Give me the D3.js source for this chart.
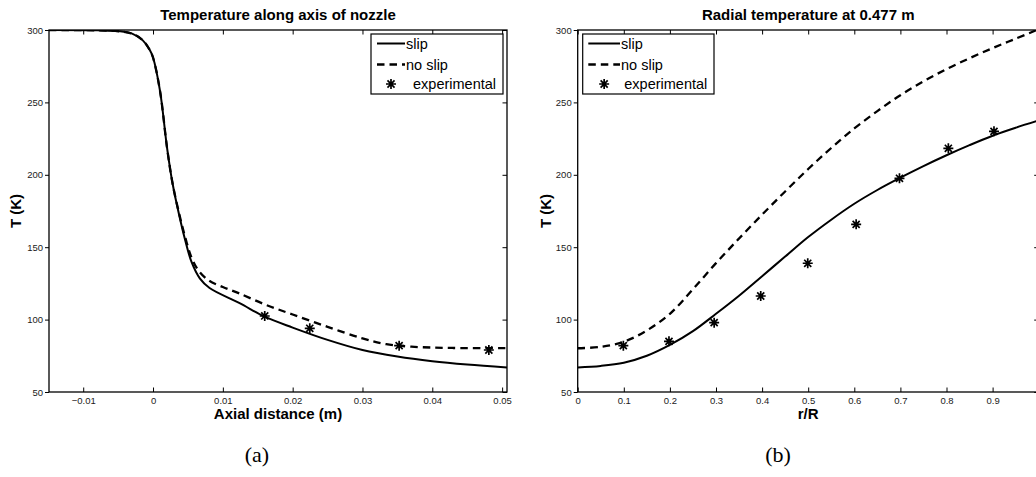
<!DOCTYPE html>
<html>
<head>
<meta charset="utf-8">
<script src="https://cdn.jsdelivr.net/npm/d3@7"></script>
<style>
  html, body { margin: 0; padding: 0; background: #fff; }
  svg { display: block; }
</style>
</head>
<body>
<svg id="fig" width="1036" height="477"></svg>
<script>
// ---- (a) temperature along nozzle axis ----
const axialSlip = [
  [-0.0149, 300], [-0.008, 299.8], [-0.005, 299.2], [-0.003, 297.5], [-0.0015, 293],
  [-0.0005, 286.5], [0, 281], [0.001, 258], [0.002, 219], [0.0028, 194], [0.0038, 171],
  [0.0046, 155], [0.0055, 140], [0.0067, 128.5], [0.0081, 121.8], [0.0124, 111.4],
  [0.016, 102], [0.020, 94.5], [0.025, 86], [0.030, 79], [0.035, 74.5], [0.040, 71.3],
  [0.045, 69], [0.0507, 67]
];
const axialNoSlip = [
  [-0.0149, 300], [-0.008, 299.8], [-0.005, 299.2], [-0.003, 297.5], [-0.0015, 293],
  [-0.0005, 286.5], [0, 281], [0.001, 258], [0.002, 219], [0.0028, 194], [0.0038, 172],
  [0.0046, 157], [0.0055, 143], [0.0065, 134], [0.008, 127], [0.010, 122.5],
  [0.0124, 118], [0.016, 110.5], [0.020, 103.5], [0.025, 95], [0.030, 87],
  [0.0334, 83], [0.037, 81.3], [0.043, 80.4], [0.0507, 80.3]
];
const axialExp = [[0.016, 102.5], [0.02245, 94], [0.03525, 82], [0.0481, 79]];
const axialTicks = [-0.01, 0, 0.01, 0.02, 0.03, 0.04, 0.05];

// ---- (b) radial temperature at 0.477 m ----
const radialR = [0, 0.05, 0.1, 0.15, 0.2, 0.25, 0.3, 0.35, 0.4, 0.45, 0.5,
                 0.55, 0.6, 0.65, 0.7, 0.75, 0.8, 0.85, 0.9, 0.95, 1.0];
const radialSlipT = [67, 68, 70.2, 75, 82.5, 92, 104, 116.5, 130, 143.5, 157,
                     169, 180, 189.5, 198, 206, 213.5, 220.5, 227, 232.5, 237.5];
const radialNoSlipT = [80.2, 81.2, 84.7, 92.5, 104, 121, 139, 156, 172.5, 188.5, 204,
                       218.5, 232, 244, 255, 264.5, 273, 280.5, 287.5, 294, 300.5];
const radialExp = [
  [0.099, 82], [0.198, 85], [0.296, 97.9], [0.397, 116.3], [0.499, 138.9],
  [0.604, 165.8], [0.698, 197.6], [0.804, 218.3], [0.903, 230]
];
const radialTicks = [0, 0.1, 0.2, 0.3, 0.4, 0.5, 0.6, 0.7, 0.8, 0.9];

const tempTicks = [50, 100, 150, 200, 250, 300];
const legendLabels = ["slip", "no slip", "experimental"];

const svg = d3.select("#fig");
const SANS = "'Liberation Sans', Arial, Helvetica, sans-serif";
const fmtTick = v => (v < 0 ? "\u2212" + String(-v) : String(v));

// eight-armed asterisk marker
function asterisk(r) {
  const d = r * Math.SQRT1_2;
  return `M${-r},0L${r},0M0,${-r}L0,${r}M${-d},${-d}L${d},${d}M${-d},${d}L${d},${-d}`;
}

function panel(cfg) {
  const { left, right, top, bottom } = cfg.box;
  const x = d3.scaleLinear().domain(cfg.xDomain).range([left, right]);
  const y = d3.scaleLinear().domain([50, 300]).range([bottom, top]);
  const g = svg.append("g").style("font-family", SANS);

  const clipId = "clip" + cfg.id;
  g.append("clipPath").attr("id", clipId)
    .append("rect").attr("x", left).attr("y", top)
    .attr("width", right - left).attr("height", bottom - top);

  const tickLen = 4.5;
  // x ticks, bottom and top, pointing inward
  g.append("g").attr("transform", `translate(0,${bottom})`)
    .call(d3.axisBottom(x).tickValues(cfg.xTicks).tickSize(-tickLen).tickPadding(5).tickFormat(fmtTick))
    .call(a => a.select(".domain").remove());
  g.append("g").attr("transform", `translate(0,${top})`)
    .call(d3.axisTop(x).tickValues(cfg.xTicks).tickSize(-tickLen).tickFormat(""))
    .call(a => a.select(".domain").remove());
  // y ticks, left side and mirrored on the right
  g.append("g").attr("transform", `translate(${left},0)`)
    .call(d3.axisLeft(y).tickValues(tempTicks).tickSize(4).tickPadding(2).tickFormat(d3.format("d")))
    .call(a => a.select(".domain").remove());
  g.append("g").attr("transform", `translate(${right},0)`)
    .call(d3.axisRight(y).tickValues(tempTicks).tickSize(-tickLen).tickFormat(""))
    .call(a => a.select(".domain").remove());

  g.selectAll(".tick line").attr("stroke", "#000").attr("stroke-width", 1);
  g.selectAll(".tick text").style("font-size", "9.5px").style("font-family", SANS).attr("fill", "#1a1a1a");

  const plot = g.append("g").attr("clip-path", `url(#${clipId})`);
  const line = d3.line().x(d => x(d[0])).y(d => y(d[1])).curve(d3.curveCatmullRom.alpha(0.5));

  plot.append("path").datum(cfg.noSlip).attr("d", line)
    .attr("fill", "none").attr("stroke", "#000").attr("stroke-width", 2.3)
    .attr("stroke-dasharray", "7.5,5");
  plot.append("path").datum(cfg.slip).attr("d", line)
    .attr("fill", "none").attr("stroke", "#000").attr("stroke-width", 2);
  plot.selectAll("path.exp").data(cfg.exp).join("path").attr("class", "exp")
    .attr("transform", d => `translate(${x(d[0])},${y(d[1])})`)
    .attr("d", asterisk(5)).attr("stroke", "#000").attr("stroke-width", 1.7).attr("fill", "none");

  // axes frame
  g.append("rect").attr("x", left).attr("y", top)
    .attr("width", right - left).attr("height", bottom - top)
    .attr("fill", "none").attr("stroke", "#000").attr("stroke-width", 1.3);

  // title and axis labels
  const cx = (left + right) / 2;
  g.append("text").attr("x", cx).attr("y", 20).attr("text-anchor", "middle")
    .style("font-size", "15px").style("font-weight", "bold").text(cfg.title);
  g.append("text").attr("x", cx).attr("y", 419).attr("text-anchor", "middle")
    .style("font-size", "15px").style("font-weight", "bold").text(cfg.xLabel);
  g.append("text").attr("transform", `translate(${cfg.yLabelX},${(top + bottom) / 2}) rotate(-90)`)
    .attr("text-anchor", "middle").style("font-size", "15px").style("font-weight", "bold").text("T (K)");

  // legend
  const L = cfg.legend;
  g.append("rect").attr("x", L.x).attr("y", L.y).attr("width", L.w).attr("height", L.h)
    .attr("fill", "#fff").attr("stroke", "#000").attr("stroke-width", 1.2);
  const rows = [43.5, 64.5, 84];
  const styles = [null, "7.5,5", "marker"];
  legendLabels.forEach((lab, i) => {
    const ry = rows[i];
    if (styles[i] === "marker") {
      g.append("path").attr("transform", `translate(${(L.l0 + L.l1) / 2},${ry})`)
        .attr("d", asterisk(5)).attr("stroke", "#000").attr("stroke-width", 1.7);
      g.append("text").attr("x", L.t2).attr("y", ry + 5).style("font-size", "14.5px").text(lab);
    } else {
      const ln = g.append("line").attr("x1", L.l0).attr("x2", L.l1).attr("y1", ry).attr("y2", ry)
        .attr("stroke", "#000").attr("stroke-width", i === 1 ? 2.3 : 2);
      if (styles[i]) ln.attr("stroke-dasharray", styles[i]);
      g.append("text").attr("x", L.t1).attr("y", ry + 5).style("font-size", "14.5px").text(lab);
    }
  });

  // panel caption
  g.append("text").attr("x", cfg.captionX).attr("y", 462).attr("text-anchor", "middle")
    .style("font-family", "'Liberation Serif', 'DejaVu Serif', serif").style("font-size", "22px")
    .text(cfg.caption);
}

panel({
  id: "a",
  box: { left: 49, right: 507, top: 30, bottom: 392 },
  xDomain: [-0.0149, 0.0507],
  xTicks: axialTicks,
  slip: axialSlip, noSlip: axialNoSlip, exp: axialExp,
  title: "Temperature along axis of nozzle",
  xLabel: "Axial distance (m)",
  yLabelX: 20.5,
  legend: { x: 371, y: 34, w: 132, h: 60, l0: 377, l1: 405, t1: 406, t2: 413 },
  caption: "(a)", captionX: 257
});

panel({
  id: "b",
  box: { left: 577.7, right: 1038.7, top: 30, bottom: 392 },
  xDomain: [0, 1],
  xTicks: radialTicks,
  slip: radialR.map((r, i) => [r, radialSlipT[i]]),
  noSlip: radialR.map((r, i) => [r, radialNoSlipT[i]]),
  exp: radialExp,
  title: "Radial temperature at 0.477 m",
  xLabel: "r/R",
  yLabelX: 550.5,
  legend: { x: 582.7, y: 34, w: 131.3, h: 60, l0: 588.3, l1: 620, t1: 621, t2: 624.3 },
  caption: "(b)", captionX: 778
});
</script>
</body>
</html>
